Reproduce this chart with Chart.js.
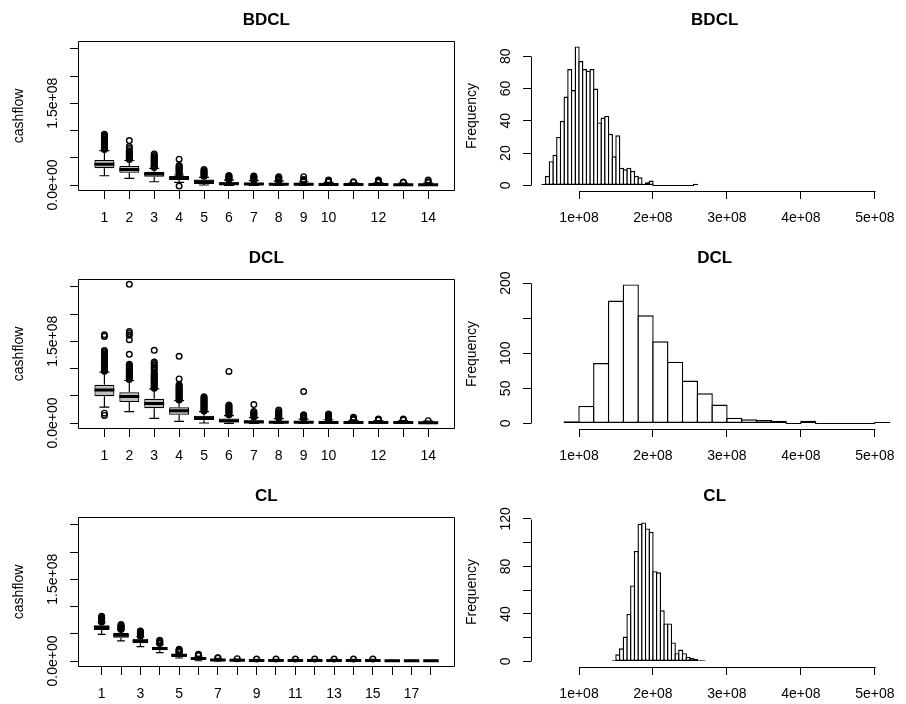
<!DOCTYPE html>
<html lang="en">
<head>
<meta charset="UTF-8">
<title>BDCL / DCL / CL cashflow</title>
<script src="https://cdn.jsdelivr.net/npm/chart.js"></script>
<style>
    body { margin: 0; background: #ffffff; overflow: hidden; }
    #page { position: relative; width: 906px; height: 704px; overflow: hidden; }
    #page canvas { position: absolute; }
</style>
</head>
<body>
<div id="page">
    <canvas id="boxBDCL" width="460" height="235" style="left:0;top:0"></canvas>
    <canvas id="histBDCL" width="453" height="235" style="left:453px;top:0"></canvas>
    <canvas id="boxDCL" width="460" height="235" style="left:0;top:238px"></canvas>
    <canvas id="histDCL" width="453" height="235" style="left:453px;top:238px"></canvas>
    <canvas id="boxCL" width="460" height="235" style="left:0;top:476px"></canvas>
    <canvas id="histCL" width="453" height="235" style="left:453px;top:476px"></canvas>
</div>
<script>
// all cashflow values in millions (1e6)

// --- boxplots: whisker ends, quartiles, medians, outliers per development period ---
const bdclLower  = [17, 12, 6, 5, 0, -0.5, -0.5, -0.5, -0.5, -0.5, -0.4, -0.4, -0.3, -0.3];
const bdclQ1     = [30.7, 22.6, 15.2, 9.2, 2, 0.8, 0.5, 0.4, 0.3, 0.3, 0.2, 0.2, 0.2, 0.2];
const bdclMedian = [38, 28.5, 20, 12.8, 6, 2.5, 1.8, 1.5, 1.2, 1, 0.8, 0.8, 0.7, 0.7];
const bdclQ3     = [45.9, 34.9, 24.4, 16.5, 10, 5, 4, 3.5, 3, 2.5, 2, 2, 1.8, 1.8];
const bdclUpper  = [63, 45, 30.7, 18.4, 14, 9, 8, 7, 6, 5, 4, 4, 3.5, 3.5];
const bdclOutliers = [
    [65, 67, 69, 71, 73, 75, 77, 79, 81, 83, 85, 87, 89, 91, 93],
    [47, 49, 51, 53, 55, 57, 59, 61, 63, 67, 70.5, 81.5],
    [32, 34, 36, 38, 40, 42, 44, 46, 48, 50, 52, 54, 57],
    [-2, 20, 22, 24, 26, 28, 30, 32, 34, 36, 47.5],
    [16, 18, 20, 22, 24, 26, 28.5],
    [10, 11.5, 13, 14.5, 16, 17.5],
    [9, 10.5, 12, 13.5, 15, 16.5],
    [8, 9.5, 11, 12.5, 14, 15.3],
    [7, 8, 9, 10, 15.3],
    [6, 7, 8, 9],
    [5, 6],
    [5, 6, 7, 8, 9],
    [4.5, 5.5],
    [4.5, 6, 9]
];

const dclLower  = [29, 21, 8.5, 3, 0, -0.5, -0.5, -0.5, -0.5, -0.4, -0.4, -0.3, -0.3, -0.3];
const dclQ1     = [49, 38.5, 27, 15.3, 5.5, 1.1, 0.5, 0.4, 0.3, 0.3, 0.2, 0.2, 0.2, 0.2];
const dclMedian = [60.5, 48.5, 36, 22.7, 9.5, 4, 2, 1.5, 1.2, 1, 0.8, 0.8, 0.8, 0.7];
const dclQ3     = [70, 56.5, 44.3, 28.8, 13.5, 8.5, 5, 4, 3.5, 3, 2.5, 2.2, 2.2, 2];
const dclUpper  = [93.5, 78, 62.7, 41, 20.8, 13.5, 10, 8, 7, 6, 5, 4.5, 4.5, 3.5];
const dclOutliers = [
    [14, 18, 95, 97, 99, 101, 103, 105, 107, 109, 111, 113, 115, 117, 119, 121, 123, 125, 127, 129, 131, 133, 159, 162],
    [80, 82, 84, 86, 88, 90, 92, 94, 96, 98, 100, 102, 104, 106, 108, 126, 153, 161, 164.5, 168, 254.6],
    [64, 66, 68, 70, 72, 74, 76, 78, 80, 82, 84, 86, 88, 90, 92, 97, 100, 103, 106, 109, 112, 133.4],
    [42, 44, 46, 48, 50, 52, 54, 56, 58, 60, 62, 64, 66, 68, 70, 81, 122.3],
    [22, 24, 26, 28, 30, 32, 34, 36, 38, 40, 42, 44, 46, 48],
    [15, 17, 19, 21, 23, 25, 27, 29, 31, 33.2, 94.6],
    [11, 13, 15, 17, 19, 21, 33.8],
    [9, 11, 13, 15, 17, 19, 21, 24],
    [8, 9.5, 11, 12.5, 14, 15.3, 57.7],
    [7, 8.5, 10, 11.5, 13, 14.5, 16.6],
    [6, 7.5, 9, 10.4],
    [5.5, 6.5, 7.4],
    [5.5, 7.4],
    [4.2]
];

const clLower  = [49, 36.8, 26.3, 15.3, 5.5, 0.5, 0, 0, 0, 0, 0, 0, 0, 0, 0, 0, 0, 0];
const clQ1     = [56.7, 42.8, 32.5, 19.7, 7.4, 1.8, 0.5, 0.3, 0.2, 0.2, 0.2, 0.2, 0.2, 0.2, 0.2, 0.1, 0.1, 0.1];
const clMedian = [61.3, 47.5, 36.8, 23, 10.4, 4.5, 2, 1.2, 0.8, 0.8, 0.8, 0.8, 0.8, 0.8, 0.8, 0.4, 0.4, 0.4];
const clQ3     = [65.8, 52, 41, 26.3, 13.4, 7.4, 3.5, 2.5, 2, 2, 2, 2, 2, 2, 2, 0.8, 0.8, 0.8];
const clUpper  = [70.4, 57, 44.7, 30.7, 15, 9, 5, 3.5, 3, 3, 3, 3, 3, 3, 3, 1.2, 1.2, 1.2];
const clOutliers = [
    [71.5, 73, 74.5, 76, 77.5, 79, 80.5, 82],
    [58, 59.5, 61, 62.5, 64, 65.5, 67],
    [46, 47.5, 49, 50.5, 52, 53.5, 55],
    [32, 33.5, 35, 36.5, 38],
    [16, 17.5, 19, 20.5, 21.5],
    [10, 11, 12.3],
    [5.5, 6],
    [4.2],
    [3.6], [3.6], [3.6], [3.6], [3.6], [3.6], [3.6],
    [], [], []
];

// tick labels (R drops the ones that would overlap)
const box14XLabels = ['1', '2', '3', '4', '5', '6', '7', '8', '9', '10', '', '12', '', '14'];
const box18XLabels = ['1', '', '3', '', '5', '', '7', '', '9', '', '11', '', '13', '', '15', '', '17', ''];
const boxYTicks  = [0, 50, 100, 150, 200, 250];
const boxYLabels = ['0.0e+00', '', '', '1.5e+08', '', ''];

// --- histograms of total reserve: first break, bin width, counts ---
const bdclHistStart = 50,  bdclHistWidth = 5;
const bdclHistCounts = [1, 6, 15, 19, 30, 40, 55, 72, 59, 86, 77, 72, 71, 72, 60, 39, 42, 43, 32, 18,
                        31, 11, 10, 11, 9, 6, 5, 1, 2, 3, 0, 0, 0, 0, 0, 0, 0, 0, 0, 0, 0, 1];
const dclHistStart = 80,  dclHistWidth = 20;
const dclHistCounts = [3, 25, 86, 175, 198, 154, 117, 88, 61, 43, 27, 8, 6, 5, 4, 0, 4, 0, 0, 0, 0, 2];
const clHistStart = 145, clHistWidth = 5;
const clHistCounts = [1, 6, 11, 21, 40, 64, 93, 116, 117, 112, 109, 76, 75, 43, 32, 32, 16, 7, 10, 7, 4, 3, 2, 1, 1];

const histXTicks  = [100, 200, 300, 400, 500];
const histXLabels = ['1e+08', '2e+08', '3e+08', '4e+08', '5e+08'];
const bdclHistYTicks = [0, 20, 40, 60, 80];
const bdclHistYLabels = ['0', '20', '40', '60', '80'];
const dclHistYTicks = [0, 50, 100, 150, 200];
const dclHistYLabels = ['0', '50', '100', '', '200'];
const clHistYTicks = [0, 20, 40, 60, 80, 100, 120];
const clHistYLabels = ['0', '', '40', '', '80', '', '120'];

// layout constants
const AXIS_W = 78, AXIS_H = 44;
const HIST_X_MIN = 35.1, HIST_X_MAX = 531.8, HIST_PLOT_W = 375;
const HIST_LINE = 1.4;
const FONT = "'Liberation Sans', Arial, Helvetica, sans-serif";

Chart.defaults.font.family = FONT;
Chart.defaults.font.size = 14;
Chart.defaults.color = '#000';
Chart.defaults.animation = false;

// R style: frame or short axis lines, y labels turned 90 degrees
const rStyle = {
    id: 'rStyle',
    afterDraw(chart, args, opts) {
        if (!opts.yLabels) return;
        const { ctx, chartArea: a } = chart;
        const x = chart.scales.x, y = chart.scales.y;
        ctx.save();
        ctx.strokeStyle = '#000';
        ctx.lineWidth = 1;
        ctx.beginPath();
        if (opts.frame) {
            ctx.rect(Math.round(a.left) + 0.5, Math.round(a.top) + 0.5,
                     Math.round(a.width) - 1, Math.round(a.height) - 1);
        } else {
            const xs = x.ticks.map(t => Math.round(x.getPixelForValue(t.value)) + 0.5);
            const ys = y.ticks.map(t => Math.round(y.getPixelForValue(t.value)) + 0.5);
            const by = Math.round(a.bottom) + 0.5, lx = Math.round(a.left) + 0.5;
            ctx.moveTo(xs[0], by);
            ctx.lineTo(xs[xs.length - 1], by);
            ctx.moveTo(lx, ys[0]);
            ctx.lineTo(lx, ys[ys.length - 1]);
        }
        ctx.stroke();

        ctx.fillStyle = '#000';
        ctx.font = '14px ' + FONT;
        ctx.textAlign = 'center';
        ctx.textBaseline = 'middle';
        y.ticks.forEach((t, i) => {
            const label = opts.yLabels[i];
            if (!label) return;
            ctx.save();
            ctx.translate(a.left - 24.5, y.getPixelForValue(t.value));
            ctx.rotate(-Math.PI / 2);
            ctx.fillText(label, 0, 0);
            ctx.restore();
        });
        ctx.restore();
    }
};
Chart.register(rStyle);

const tickGrid = { display: true, drawOnChartArea: false, drawTicks: true, tickLength: 8,
                   color: '#000', tickColor: '#000', offset: false };

function panelTitle(text) {
    return { display: true, text: text, fullSize: false, color: '#000',
             font: { size: 17, weight: 'bold' }, padding: { top: 10.5, bottom: 10 } };
}

function boxChart(id, title, lower, q1, med, q3, upper, outliers, xMin, xMax, xLabels) {
    const boxes = [], whiskers = [], caps = [], medians = [], points = [];
    q1.forEach((v, i) => {
        const x = i + 1;
        boxes.push({ x: x, y: [q1[i], q3[i]] });
        whiskers.push({ x: x, y: q3[i] }, { x: x, y: upper[i] }, { x: x, y: null },
                      { x: x, y: q1[i] }, { x: x, y: lower[i] }, { x: x, y: null });
        caps.push({ x: x - 0.2, y: upper[i] }, { x: x + 0.2, y: upper[i] }, { x: x, y: null },
                  { x: x - 0.2, y: lower[i] }, { x: x + 0.2, y: lower[i] }, { x: x, y: null });
        medians.push({ x: x - 0.4, y: med[i] }, { x: x + 0.4, y: med[i] }, { x: x, y: null });
        outliers[i].forEach(o => points.push({ x: x, y: o }));
    });

    const line = { type: 'line', pointRadius: 0, borderColor: '#000', tension: 0, fill: false };

    return new Chart(document.getElementById(id), {
        type: 'bar',
        data: {
            datasets: [
                { type: 'scatter', data: points, order: 1, pointStyle: 'circle', pointRadius: 2.8,
                  pointBorderWidth: 1.4, pointBorderColor: '#000', pointBackgroundColor: 'rgba(0,0,0,0)' },
                Object.assign({ data: medians, order: 2, borderWidth: 3 }, line),
                Object.assign({ data: caps, order: 3, borderWidth: 1.2 }, line),
                Object.assign({ data: whiskers, order: 3, borderWidth: 1.2 }, line),
                { data: boxes, order: 4, backgroundColor: '#bebebe', borderColor: '#000', borderWidth: 1.2,
                  borderSkipped: false, barPercentage: 0.8, categoryPercentage: 1 }
            ]
        },
        options: {
            responsive: false,
            events: [],
            layout: { padding: { left: 0, right: 4, top: 0, bottom: 0 } },
            plugins: {
                legend: { display: false },
                tooltip: { enabled: false },
                title: panelTitle(title),
                rStyle: { frame: true, yLabels: boxYLabels }
            },
            scales: {
                x: {
                    type: 'linear', min: xMin, max: xMax, offset: false,
                    afterBuildTicks: s => { s.ticks = xLabels.map((l, i) => ({ value: i + 1 })); },
                    afterFit: s => { s.height = AXIS_H; },
                    ticks: { autoSkip: false, maxRotation: 0, minRotation: 0, padding: 11,
                             callback: (v, i) => xLabels[i] },
                    grid: tickGrid,
                    border: { display: false }
                },
                y: {
                    type: 'linear', min: -11, max: 264.5,
                    afterBuildTicks: s => { s.ticks = boxYTicks.map(v => ({ value: v })); },
                    afterFit: s => { s.width = AXIS_W; },
                    ticks: { display: false },
                    grid: tickGrid,
                    border: { display: false },
                    title: { display: true, text: 'cashflow', font: { size: 14 }, padding: { top: 10.5, bottom: 0 } }
                }
            }
        }
    });
}

function histChart(id, title, start, width, counts, yTicks, yLabels) {
    const bars = counts.map((c, i) => ({ x: start + width * (i + 0.5), y: c }));
    const top = Math.max(...counts);
    const binPx = width / (HIST_X_MAX - HIST_X_MIN) * HIST_PLOT_W;

    return new Chart(document.getElementById(id), {
        type: 'bar',
        data: {
            datasets: [{
                data: bars, backgroundColor: '#ffffff', borderColor: '#000', borderWidth: HIST_LINE,
                borderSkipped: false, minBarLength: 1,
                barPercentage: (binPx + HIST_LINE) / binPx, categoryPercentage: 1
            }]
        },
        options: {
            responsive: false,
            events: [],
            layout: { padding: { left: 0, right: 0, top: 0, bottom: 0 } },
            plugins: {
                legend: { display: false },
                tooltip: { enabled: false },
                title: panelTitle(title),
                rStyle: { frame: false, yLabels: yLabels }
            },
            scales: {
                x: {
                    type: 'linear', min: HIST_X_MIN, max: HIST_X_MAX, offset: false,
                    afterBuildTicks: s => { s.ticks = histXTicks.map(v => ({ value: v })); },
                    afterFit: s => { s.height = AXIS_H; },
                    ticks: { autoSkip: false, maxRotation: 0, minRotation: 0, padding: 11,
                             callback: (v, i) => histXLabels[i] },
                    grid: tickGrid,
                    border: { display: false }
                },
                y: {
                    type: 'linear', min: -0.04 * top, max: 1.04 * top,
                    afterBuildTicks: s => { s.ticks = yTicks.map(v => ({ value: v })); },
                    afterFit: s => { s.width = AXIS_W; },
                    ticks: { display: false },
                    grid: tickGrid,
                    border: { display: false },
                    title: { display: true, text: 'Frequency', font: { size: 14 }, padding: { top: 10.5, bottom: 0 } }
                }
            }
        }
    });
}

boxChart('boxBDCL', 'BDCL', bdclLower, bdclQ1, bdclMedian, bdclQ3, bdclUpper, bdclOutliers, -0.06, 15.06, box14XLabels);
boxChart('boxDCL', 'DCL', dclLower, dclQ1, dclMedian, dclQ3, dclUpper, dclOutliers, -0.06, 15.06, box14XLabels);
boxChart('boxCL', 'CL', clLower, clQ1, clMedian, clQ3, clUpper, clOutliers, -0.22, 19.22, box18XLabels);

histChart('histBDCL', 'BDCL', bdclHistStart, bdclHistWidth, bdclHistCounts, bdclHistYTicks, bdclHistYLabels);
histChart('histDCL', 'DCL', dclHistStart, dclHistWidth, dclHistCounts, dclHistYTicks, dclHistYLabels);
histChart('histCL', 'CL', clHistStart, clHistWidth, clHistCounts, clHistYTicks, clHistYLabels);
</script>
</body>
</html>
